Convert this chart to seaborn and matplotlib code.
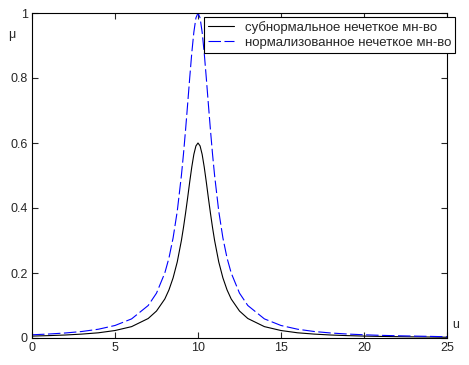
import matplotlib
matplotlib.use("Agg")
import matplotlib.pyplot as plt
import numpy as np
import pandas as pd
import seaborn as sns

# values
u = [0, 1, 2, 3, 4, 5, 6, 7, 7.5, 8, 8.25, 8.5, 8.75, 9, 9.125, 9.25, 9.375,
     9.5, 9.625, 9.75, 9.875, 10, 10.125, 10.25, 10.375, 10.5, 10.625, 10.75,
     10.875, 11, 11.25, 11.5, 11.75, 12, 12.5, 13, 14, 15, 16, 17, 18, 19, 20,
     21, 22, 23, 24, 25]
mu_norm = [0.0099, 0.0122, 0.0154, 0.020, 0.027, 0.0385, 0.0588, 0.100, 0.138,
           0.200, 0.246, 0.308, 0.390, 0.500, 0.566, 0.640, 0.719, 0.800,
           0.877, 0.941, 0.985, 1.000, 0.985, 0.941, 0.877, 0.800, 0.719,
           0.640, 0.566, 0.500, 0.390, 0.308, 0.246, 0.200, 0.138, 0.100,
           0.0588, 0.0385, 0.027, 0.020, 0.0154, 0.0122, 0.0099, 0.0082,
           0.0069, 0.0059, 0.0050, 0.0038]
mu_sub = [0.0059, 0.0073, 0.0092, 0.012, 0.016, 0.023, 0.035, 0.060, 0.083,
          0.120, 0.148, 0.185, 0.234, 0.300, 0.340, 0.384, 0.431, 0.480,
          0.526, 0.565, 0.591, 0.600, 0.591, 0.565, 0.526, 0.480, 0.431,
          0.384, 0.340, 0.300, 0.234, 0.185, 0.148, 0.120, 0.083, 0.060,
          0.035, 0.023, 0.016, 0.012, 0.0092, 0.0073, 0.0059, 0.0049,
          0.0041, 0.0035, 0.0030, 0.0023]
labels = ["субнормальное нечеткое мн-во", "нормализованное нечеткое мн-во"]

sns.set_style("ticks", {"xtick.direction": "in", "ytick.direction": "in"})
plt.rcParams["font.family"] = ["Liberation Sans", "DejaVu Sans"]
plt.rcParams["lines.scale_dashes"] = False

df = pd.DataFrame({"u": u + u,
                   "mu": mu_sub + mu_norm,
                   "set": [labels[0]] * len(u) + [labels[1]] * len(u)})

fig = plt.figure(figsize=(4.69, 3.65), dpi=100)
ax = fig.add_axes([32 / 469, 1 - 338 / 365, 415 / 469, 325 / 365])
sns.lineplot(data=df, x="u", y="mu", hue="set", style="set",
             palette=["black", "blue"], dashes=[(None, None), (9, 2.5)],
             linewidth=0.8, ax=ax, legend=True)

ax.set_xlim(0, 25)
ax.set_ylim(0, 1)
ax.set_xticks([0, 5, 10, 15, 20, 25])
ax.set_yticks([0, 0.2, 0.4, 0.6, 0.8, 1])
ax.set_yticklabels(["0", "0.2", "0.4", "0.6", "0.8", "1"])
ax.tick_params(direction="in", length=4, width=0.8, labelsize=9,
               top=True, right=True, pad=3)
for s in ax.spines.values():
    s.set_visible(True)
    s.set_linewidth(0.8)
    s.set_color("black")
ax.set_xlabel("")
ax.set_ylabel("")

handles, _ = ax.get_legend_handles_labels()
leg = ax.legend(handles=handles, labels=labels, loc="upper left",
                bbox_to_anchor=(204 / 469, 1 - 17 / 365),
                bbox_transform=fig.transFigure, borderaxespad=0,
                fontsize=9.5, frameon=True, fancybox=False, framealpha=1,
                edgecolor="black", handlelength=2.0, handletextpad=0.8,
                labelspacing=0.2, borderpad=0.3)
leg.get_frame().set_linewidth(0.8)

fig.text(12 / 469, 1 - 35 / 365, "μ", fontsize=9, ha="center", va="center")
fig.text(456 / 469, 1 - 325 / 365, "u", fontsize=9, ha="center", va="center")

fig.savefig("out.png", dpi=100)
